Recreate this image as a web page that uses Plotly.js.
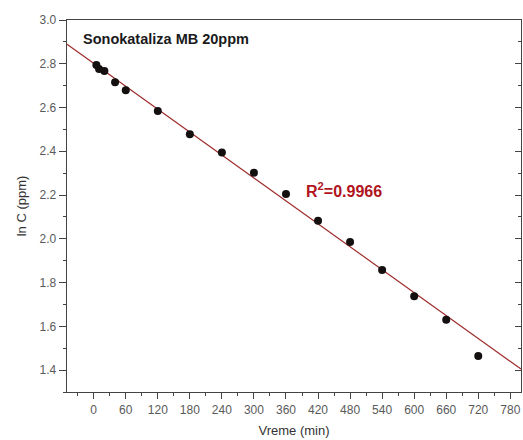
<!DOCTYPE html>
<html>
<head>
<meta charset="utf-8">
<script src="https://cdn.plot.ly/plotly-3.0.1.min.js"></script>
<style>html,body{margin:0;padding:0;background:#fff;}#chart{width:523px;height:440px;}</style>
</head>
<body>
<div id="chart"></div>
<script>
// Measured data (time in min, ln C in ppm)
const timeMin = [5, 10, 20, 40, 60, 120, 180, 240, 300, 360, 420, 480, 540, 600, 660, 720];
const lnC = [2.794, 2.776, 2.767, 2.715, 2.679, 2.584, 2.478, 2.394, 2.302, 2.205, 2.083, 1.985, 1.857, 1.737, 1.630, 1.464];
// Fitted line endpoints
const fitX = [-50, 800];
const fitY = [2.889, 1.405];
const xTicks = [0, 60, 120, 180, 240, 300, 360, 420, 480, 540, 600, 660, 720, 780];
const yTicks = [1.4, 1.6, 1.8, 2.0, 2.2, 2.4, 2.6, 2.8, 3.0];
const titleText = "Sonokataliza MB 20ppm";
const r2Text = "R<sup>2</sup>=0.9966";

const font = "'Liberation Sans', Arial, sans-serif";
const traces = [
  {x: fitX, y: fitY, mode: 'lines', line: {color: '#9e2b2b', width: 1.2}, hoverinfo: 'skip'},
  {x: timeMin, y: lnC, mode: 'markers', marker: {color: '#141010', size: 8}},
  {x: [null], y: [null], yaxis: 'y2', mode: 'markers'}
];
const layout = {
  width: 523, height: 440,
  margin: {l: 67, r: 2, t: 20, b: 48},
  paper_bgcolor: '#fff', plot_bgcolor: '#fff',
  showlegend: false,
  font: {family: font, color: '#444'},
  xaxis: {
    range: [-50, 800], tickvals: xTicks, ticktext: xTicks.map(String),
    ticks: 'outside', ticklen: 6, tickwidth: 1, tickcolor: '#444',
    minor: {dtick: 30, tick0: 0, ticks: 'outside', ticklen: 3, tickcolor: '#444', showgrid: false},
    showline: true, linecolor: '#444', linewidth: 1.3, mirror: true,
    showgrid: false, zeroline: false,
    tickfont: {size: 12, color: '#5a5a5a', family: font},
    title: {text: 'Vreme (min)', font: {size: 13, color: '#333', family: font}, standoff: 10}
  },
  yaxis: {
    range: [1.3, 3.0], tickvals: yTicks, ticktext: yTicks.map(v => v.toFixed(1)),
    ticks: 'outside', ticklen: 7, tickwidth: 1, tickcolor: '#444',
    minor: {dtick: 0.1, tick0: 1.3, ticks: 'outside', ticklen: 3, tickcolor: '#444', showgrid: false},
    showline: true, linecolor: '#444', linewidth: 1.3, mirror: true,
    showgrid: false, zeroline: false,
    tickfont: {size: 12, color: '#5a5a5a', family: font},
    title: {text: 'ln C (ppm)', font: {size: 13, color: '#333', family: font}, standoff: 10}
  },
  yaxis2: {
    overlaying: 'y', side: 'right', range: [1.3, 3.0],
    tickvals: yTicks, showticklabels: false,
    ticks: 'inside', ticklen: 6, tickcolor: '#444',
    minor: {dtick: 0.1, tick0: 1.3, ticks: 'inside', ticklen: 3, tickcolor: '#444', showgrid: false},
    showgrid: false, zeroline: false, showline: false
  },
  annotations: [
    {x: -23, y: 2.913, xref: 'x', yref: 'y', xanchor: 'left', yanchor: 'middle', showarrow: false,
     text: '<b>' + titleText + '</b>', font: {size: 14.5, color: '#1a1a1a', family: font}},
    {x: 394, y: 2.223, xref: 'x', yref: 'y', xanchor: 'left', yanchor: 'middle', showarrow: false,
     text: '<b>' + r2Text + '</b>', font: {size: 16, color: '#b0141c', family: font}}
  ]
};
Plotly.newPlot('chart', traces, layout, {staticPlot: true, displayModeBar: false});
</script>
</body>
</html>
